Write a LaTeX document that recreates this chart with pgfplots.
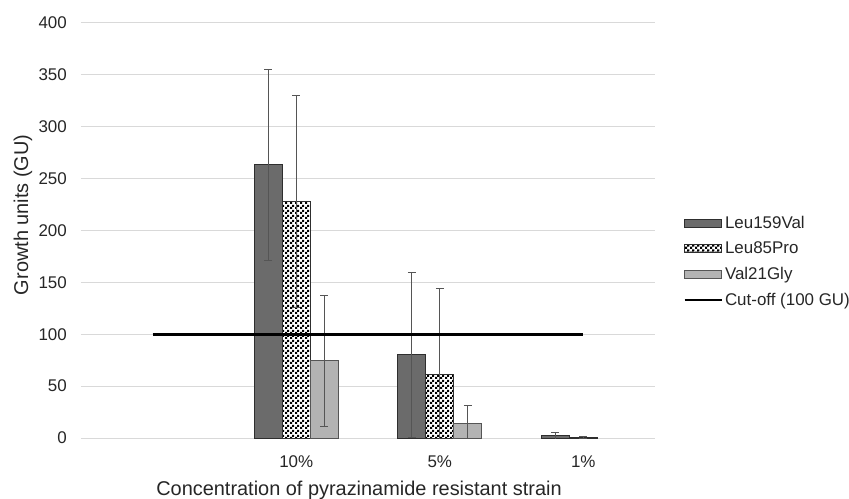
\documentclass[border=0pt]{standalone}
\usepackage{pgfplots}
\pgfplotsset{compat=1.18}
\usepackage{fontspec}
\setmainfont{Liberation Sans}
\usetikzlibrary{patterns}
\pgfdeclarepatternformonly{checker}{\pgfqpoint{0bp}{0bp}}{\pgfqpoint{5bp}{5bp}}{\pgfqpoint{5bp}{5bp}}{%
\pgfpathrectangle{\pgfqpoint{0bp}{0bp}}{\pgfqpoint{2.5bp}{2.5bp}}%
\pgfpathrectangle{\pgfqpoint{2.5bp}{2.5bp}}{\pgfqpoint{2.5bp}{2.5bp}}%
\pgfusepath{fill}}
\definecolor{darkbar}{HTML}{6B6B6B}
\definecolor{lightbar}{HTML}{B3B3B3}
\definecolor{edge}{HTML}{2E2E2E}
\definecolor{errc}{HTML}{555555}
\definecolor{gridc}{HTML}{D9D9D9}
\pgfplotsset{
  barlegend/.style={legend image code/.code={\draw[##1] (0bp,-4bp) rectangle (37bp,4bp);}},
  linelegend/.style={legend image code/.code={\draw[##1] (0bp,0bp) -- (37bp,0bp);}},
}
\begin{document}
\begin{tikzpicture}
\useasboundingbox (-81bp,-61bp) rectangle (768bp,438bp);
\begin{axis}[
  scale only axis, width=574bp, height=415.3bp,
  xmin=-0.5, xmax=3.5, ymin=0, ymax=400,
  xtick={1,2,3}, xticklabels={10\%,5\%,1\%},
  ytick={0,50,...,400},
  ymajorgrids, grid style={gridc, line width=1bp},
  axis line style={draw=none},
  major tick length=0pt,
  /pgf/number format/assume math mode=true,
  tick label style={font=\fontsize{17}{19}\selectfont, text=black!85},
  yticklabel style={inner sep=0pt, xshift=-14bp},
  xticklabel style={inner sep=0pt, anchor=center, yshift=-24bp},
  label style={font=\fontsize{20}{22}\selectfont, text=black!85},
  xlabel={Concentration of pyrazinamide resistant strain},
  ylabel={Growth units (GU)},
  xlabel style={at={(axis description cs:0.4843,-0.1252)}, anchor=center},
  ylabel style={at={(axis description cs:-0.101,0.5373)}, anchor=center},
  legend style={at={(axis description cs:1.0488,0.425)}, anchor=west,
    draw=none, fill=none, inner sep=0pt, row sep=12bp,
    font=\fontsize{17}{19}\selectfont, text=black!85,
    nodes={inner xsep=2bp, inner ysep=0pt}},
  legend cell align=left,
  error bars/error bar style={errc, line width=0.9bp},
  error bars/error mark options={errc, rotate=90, mark size=3.8bp, line width=0.9bp},
]
% bars placed at category position +/- one bar width (28bp = 0.19512 units)
\addplot[ybar, bar width=28bp, bar shift=0bp, fill=darkbar, draw=edge, line width=0.9bp,
  barlegend, error bars/.cd, y dir=both, y explicit]
  coordinates {(0.80488,263) +- (0,92) (1.80488,80) +- (0,79) (2.80488,2) +- (0,3)};
\addlegendentry{Leu159Val}
\addplot[ybar, bar width=28bp, bar shift=0bp, fill=white, draw=edge, line width=0.9bp,
  postaction={pattern=checker, pattern color=black},
  barlegend, error bars/.cd, y dir=both, y explicit]
  coordinates {(1,228) +- (0,102) (2,61) +- (0,83) (3,0.8) +- (0,1)};
\addlegendentry{Leu85Pro}
\addplot[ybar, bar width=28bp, bar shift=0bp, fill=lightbar, draw=errc, line width=0.9bp,
  barlegend, error bars/.cd, y dir=both, y explicit]
  coordinates {(1.19512,74.5) +- (0,63) (2.19512,14) +- (0,17)};
\addlegendentry{Val21Gly}
\addplot[black, line width=2.8bp, mark=none, linelegend]
  coordinates {(0,100) (1,100) (2,100) (3,100)};
\addlegendentry{Cut-off (100 GU)}
\end{axis}
\end{tikzpicture}
\end{document}
